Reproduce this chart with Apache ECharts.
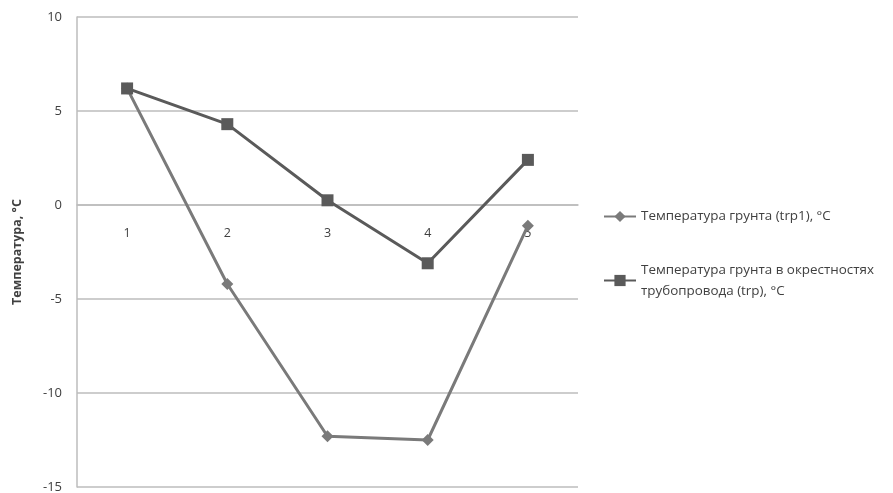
<!DOCTYPE html>
<html><head><meta charset="utf-8">
<script src="https://cdn.jsdelivr.net/npm/echarts@6/dist/echarts.min.js"></script>
<style>html,body{margin:0;padding:0;background:#fff}#c{width:893px;height:493px}</style>
</head><body><div id="c"></div>
<script>
const categories = ['1', '2', '3', '4', '5'];
const seriesGround = [6.2, -4.2, -12.3, -12.5, -1.1];
const seriesPipe = [6.2, 4.3, 0.25, -3.1, 2.4];
const nameGround = 'Температура грунта (trp1), °С';
const namePipe = 'Температура грунта в окрестностях\nтрубопровода (trp), °С';
const yTitle = 'Температура, °С';

const FONT = 'Open Sans';
const chart = echarts.init(document.getElementById('c'));
const gridColor = '#bcbcbc';
chart.setOption({
  animation: false,
  textStyle: { fontFamily: FONT },
  grid: { left: 77, right: 315, top: 17, bottom: 6, containLabel: false, outerBoundsMode: 'none' },
  legend: [
    { data: [nameGround], orient: 'vertical', left: 603, top: 210, padding: 0,
      itemWidth: 32, itemHeight: 14, itemGap: 0,
      textStyle: { fontSize: 13.4, color: '#404040', fontFamily: FONT } },
    { data: [namePipe], orient: 'vertical', left: 603, top: 249, padding: 0,
      itemWidth: 32, itemHeight: 14, itemGap: 0,
      textStyle: { fontSize: 13.4, color: '#404040', fontFamily: FONT, lineHeight: 21, padding: [21, 0, 0, 0] } }
  ],
  xAxis: {
    type: 'category', data: categories, boundaryGap: true,
    offset: -282,
    axisLine: { onZero: false, lineStyle: { color: gridColor, width: 1.5 } },
    axisTick: { show: false },
    axisLabel: { margin: 22, fontSize: 12.5, color: '#404040' },
    splitLine: { show: false }
  },
  yAxis: {
    type: 'value', min: -15, max: 10, interval: 5,
    name: yTitle, nameLocation: 'middle', nameGap: 53,
    nameTextStyle: { fontWeight: 'bold', fontSize: 12.5, color: '#404040' },
    axisLine: { show: true, lineStyle: { color: gridColor, width: 1.5 } },
    axisTick: { show: false },
    axisLabel: { margin: 15, fontSize: 13, color: '#404040' },
    splitLine: { show: true, lineStyle: { color: gridColor, width: 1.5 } }
  },
  series: [
    { name: nameGround, type: 'line', data: seriesGround, symbol: 'diamond', symbolSize: 12,
      lineStyle: { color: '#7a7a7a', width: 3 }, itemStyle: { color: '#7a7a7a' }, z: 2 },
    { name: namePipe, type: 'line', data: seriesPipe, symbol: 'rect', symbolSize: 12,
      lineStyle: { color: '#5a5a5a', width: 3 }, itemStyle: { color: '#5a5a5a' }, z: 3 }
  ]
});
</script></body></html>
